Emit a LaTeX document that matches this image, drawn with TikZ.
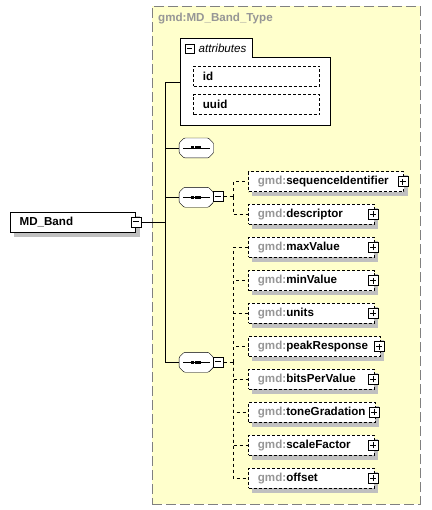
\documentclass[tikz,border=0pt]{standalone}
\usepackage{fontspec}
\setmainfont{Liberation Sans}
\definecolor{typefill}{RGB}{255,255,204}
\definecolor{typeborder}{RGB}{128,128,128}
\definecolor{shadowgray}{RGB}{192,192,192}
\definecolor{nsgray}{RGB}{150,150,150}
\pgfdeclarelayer{bglayer}
\pgfdeclarelayer{shadowlayer}
\pgfsetlayers{bglayer,shadowlayer,main}
\begin{document}
\begin{tikzpicture}[x=1pt,y=-1pt,
  line width=1pt,
  txt/.style={font=\fontsize{11.6}{13}\selectfont\bfseries},
  elem/.style={draw, dash pattern=on 3pt off 2pt, fill=white, anchor=west,
    minimum height=20pt, inner xsep=9.4pt, inner ysep=0pt, align=left, text width=#1, txt},
  plusbox/.style={draw, solid, fill=white, minimum size=10pt, inner sep=0pt,
    path picture={\draw[line width=1pt] ([xshift=2pt]path picture bounding box.west) -- ([xshift=-2pt]path picture bounding box.east);
                  \draw[line width=1pt] ([yshift=2pt]path picture bounding box.south) -- ([yshift=-2pt]path picture bounding box.north);}},
  minusbox/.style={draw, solid, fill=white, minimum size=10pt, inner sep=0pt,
    path picture={\draw[line width=1pt] ([xshift=2pt]path picture bounding box.west) -- ([xshift=-2pt]path picture bounding box.east);}},
  seqbox/.style={rectangle, minimum width=34pt, minimum height=19.5pt, inner sep=0pt},
  conn/.style={dash pattern=on 3pt off 3pt}
]
\useasboundingbox (0,0) rectangle (431,510);

% type container
\begin{pgfonlayer}{bglayer}
\node[draw=typeborder, fill=typefill, dash pattern=on 10pt off 4pt, anchor=north west,
  minimum width=268pt, minimum height=498pt, inner sep=0pt] (typebox) at (152,6) {};
\end{pgfonlayer}
\node[anchor=west, inner sep=0pt, txt, text=nsgray] (typetitle) at (158,19) {gmd:MD\_Band\_Type};

% attributes group
\draw[fill=white] (180,38.7) -- (252,38.7) -- (252,57.3) -- (330,57.3) -- (330,125.3) -- (180,125.3) -- cycle;
\node[minusbox, minimum size=9pt, line width=0.8pt] (attrminus) at (189.5,48.5) {};
\node[anchor=west, inner sep=0pt, font=\fontsize{11.6}{13}\selectfont\itshape] (attrlabel) at (198.5,48) {attributes};
\coordinate (attrin) at (180,82);
\node[elem=107.3pt] (aid) at (193.3,76.3) {id};
\node[elem=107.3pt] (auuid) at (193.3,104.6) {uuid};

% root element
\node[elem=106.3pt, solid, anchor=north west, minimum height=20.6pt] (root) at (10,211.7) {MD\_Band};
\node[minusbox] (rootminus) at (135.7,222) {};

% trunk
\coordinate (trunktop) at (165,82);
\coordinate (trunkbot) at (165,362.3);

% compositors (sequence octagons)
\foreach \n/\yy in {seq1/148, seq2/197.3, seq3/362.3}{
  \node[seqbox] (\n) at (196.3,\yy) {};
  \begin{pgfonlayer}{shadowlayer}
  \fill[shadowgray, rounded corners=1pt, shift={(4pt,-4pt)}]
    ([xshift=5pt]\n.north west) -- ([xshift=-5pt]\n.north east) -- ([yshift=-5pt]\n.north east)
    -- ([yshift=5pt]\n.south east) -- ([xshift=-5pt]\n.south east) -- ([xshift=5pt]\n.south west)
    -- ([yshift=5pt]\n.south west) -- ([yshift=-5pt]\n.north west) -- cycle;
  \end{pgfonlayer}
  \draw[fill=white, rounded corners=1pt]
    ([xshift=5pt]\n.north west) -- ([xshift=-5pt]\n.north east) -- ([yshift=-5pt]\n.north east)
    -- ([yshift=5pt]\n.south east) -- ([xshift=-5pt]\n.south east) -- ([xshift=5pt]\n.south west)
    -- ([yshift=5pt]\n.south west) -- ([yshift=-5pt]\n.north west) -- cycle;
  \draw ([xshift=4pt]\n.west) -- ([xshift=-4pt]\n.east);
  \foreach \dx in {-3.6,0,3.6}{
    \fill ([xshift=\dx pt]\n.center) ++(-1.5pt,-1.5pt) rectangle ++(3pt,3pt);
  }
}
\node[minusbox] (seq2minus) at (218.3,196.7) {};
\node[minusbox] (seq3minus) at (218.3,361.7) {};

\draw (rootminus.east) -- (rootminus.east -| trunktop);
\draw (attrin) -- (trunktop) -- (trunkbot) -- (seq3.west);
\draw (seq1.west -| trunktop) -- (seq1.west);
\draw (seq2.west -| trunktop) -- (seq2.west);

% elements of sequence 2
\node[elem=136.2pt] (e1) at (248.3,181.7) {\textcolor{nsgray}{gmd:}sequenceIdentifier};
\node[elem=106.9pt] (e2) at (248.3,214.3) {\textcolor{nsgray}{gmd:}descriptor};
% elements of sequence 3
\node[elem=106.9pt] (e3) at (248.3,247.3) {\textcolor{nsgray}{gmd:}maxValue};
\node[elem=106.9pt] (e4) at (248.3,280.5) {\textcolor{nsgray}{gmd:}minValue};
\node[elem=106.9pt] (e5) at (248.3,313.3) {\textcolor{nsgray}{gmd:}units};
\node[elem=112.9pt] (e6) at (248.3,346.5) {\textcolor{nsgray}{gmd:}peakResponse};
\node[elem=106.9pt] (e7) at (248.3,379.3) {\textcolor{nsgray}{gmd:}bitsPerValue};
\node[elem=107.9pt] (e8) at (248.3,412.3) {\textcolor{nsgray}{gmd:}toneGradation};
\node[elem=106.9pt] (e9) at (248.3,445.3) {\textcolor{nsgray}{gmd:}scaleFactor};
\node[elem=106.9pt] (e10) at (248.3,478.3) {\textcolor{nsgray}{gmd:}offset};

\foreach \e in {e1,e2,e3,e4,e5,e6,e7,e8,e9,e10}{
  \node[plusbox] (\e plus) at ([xshift=-1pt]\e.east) {};
}

% shadows of boxes
\begin{pgfonlayer}{shadowlayer}
\foreach \n in {aid,auuid,root,e1,e2,e3,e4,e5,e6,e7,e8,e9,e10}{
  \fill[shadowgray] ([xshift=4pt,yshift=-4pt]\n.south west) rectangle ([xshift=4pt,yshift=-4pt]\n.north east);
}
\end{pgfonlayer}

% dashed connectors
\coordinate (j2) at (233.3,196.7);
\coordinate (j3) at (233.3,361.7);
\draw[conn] (seq2minus.east) -- (j2);
\draw[conn] (j2) |- (e1.west);
\draw[conn] (j2) |- (e2.west);
\draw[conn] (seq3minus.east) -- (j3);
\foreach \e in {e3,e4,e5,e6,e7,e8,e9,e10}{
  \draw[conn] (j3) |- (\e.west);
}
\end{tikzpicture}
\end{document}
